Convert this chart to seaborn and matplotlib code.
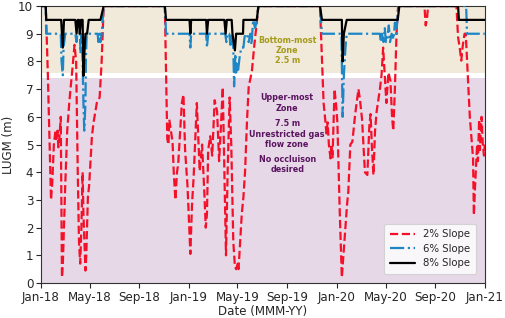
import matplotlib
matplotlib.use("Agg")
import matplotlib.pyplot as plt
import matplotlib.dates as mdates
import pandas as pd
import seaborn as sns

# ---------------- data ----------------
slope2_dates = [
    "2018-01-01", "2018-01-13", "2018-01-18", "2018-01-26", "2018-01-29", "2018-02-02",
    "2018-02-06", "2018-02-08", "2018-02-11", "2018-02-13", "2018-02-16", "2018-02-19",
    "2018-02-22", "2018-02-24", "2018-03-02", "2018-03-07", "2018-03-12", "2018-03-15",
    "2018-03-19", "2018-03-25", "2018-03-29", "2018-04-02", "2018-04-05", "2018-04-08",
    "2018-04-11", "2018-04-14", "2018-04-16", "2018-04-21", "2018-04-23", "2018-04-27",
    "2018-04-30", "2018-05-04", "2018-05-07", "2018-05-11", "2018-05-19", "2018-05-26",
    "2018-05-31", "2018-06-05", "2018-11-03",
    "2018-11-09", "2018-11-12", "2018-11-14", "2018-11-18", "2018-11-22", "2018-11-25",
    "2018-11-29", "2018-12-03", "2018-12-06", "2018-12-11", "2018-12-15", "2018-12-19",
    "2018-12-23", "2018-12-29", "2019-01-05", "2019-01-09", "2019-01-13", "2019-01-21",
    "2019-01-28", "2019-02-03", "2019-02-09", "2019-02-12", "2019-02-15", "2019-02-18",
    "2019-02-23", "2019-02-28", "2019-03-06", "2019-03-12", "2019-03-17", "2019-03-21",
    "2019-03-26", "2019-03-30", "2019-04-03", "2019-04-07", "2019-04-12", "2019-04-16",
    "2019-04-21", "2019-04-25", "2019-04-28", "2019-05-02", "2019-05-04", "2019-05-08",
    "2019-05-12", "2019-05-16", "2019-05-20", "2019-05-25", "2019-05-29", "2019-06-06",
    "2019-06-12", "2019-06-18", "2019-06-22", "2019-11-21",
    "2019-11-26", "2019-11-30", "2019-12-04", "2019-12-07", "2019-12-10", "2019-12-13",
    "2019-12-17", "2019-12-19", "2019-12-22", "2019-12-27", "2019-12-31", "2020-01-03",
    "2020-01-09", "2020-01-14", "2020-01-18", "2020-01-22", "2020-01-27", "2020-01-30",
    "2020-02-04", "2020-02-09", "2020-02-16", "2020-02-24", "2020-02-28", "2020-03-04",
    "2020-03-11", "2020-03-17", "2020-03-22", "2020-03-25", "2020-03-28", "2020-04-01",
    "2020-04-05", "2020-04-09", "2020-04-12", "2020-04-17", "2020-04-21", "2020-04-25",
    "2020-04-29", "2020-05-03", "2020-05-08", "2020-05-13", "2020-05-17", "2020-05-20",
    "2020-05-24", "2020-05-28", "2020-06-01", "2020-08-05", "2020-08-08", "2020-08-11",
    "2020-08-14", "2020-10-23", "2020-10-27", "2020-10-31", "2020-11-04", "2020-11-07",
    "2020-11-12", "2020-11-15", "2020-11-20", "2020-11-25", "2020-12-03", "2020-12-05",
    "2020-12-08", "2020-12-13", "2020-12-15", "2020-12-18", "2020-12-20", "2020-12-24",
    "2020-12-27", "2020-12-30", "2021-01-01",
]
slope2_values = [
    10, 10, 7.6, 3.0, 3.6, 5.0,
    5.5, 5.2, 5.5, 4.9, 5.3, 6.0,
    0.2, 0.6, 3.5, 5.5, 6.5, 7.0,
    7.6, 8.6, 8.0, 4.0, 1.5, 0.7,
    2.0, 4.0, 2.5, 0.45, 1.0, 3.1,
    3.5, 4.5, 5.3, 5.8, 6.5, 6.7,
    8.0, 10, 10,
    5.2, 5.0, 5.9, 5.5, 5.1, 4.0,
    3.0, 4.0, 4.3, 5.5, 6.5, 6.8,
    4.8, 3.5, 1.05, 2.8, 3.8, 6.5,
    4.05, 5.0, 3.1, 2.0, 2.5, 4.8,
    5.3, 4.6, 6.6, 6.2, 4.4, 5.5,
    7.07, 4.0, 1.0, 4.0, 6.7, 5.0,
    1.5, 0.6, 0.5, 0.7, 0.5, 1.5,
    2.5, 3.1, 4.0, 5.9, 7.07, 7.66,
    8.6, 9.4, 10, 10,
    8.0, 6.5, 5.9, 5.4, 5.8, 5.0,
    4.5, 5.0, 4.5, 7.0, 6.4, 5.8,
    2.5, 0.2, 1.0, 1.8, 2.85, 3.3,
    5.0, 5.1, 6.1, 7.0, 6.6, 5.9,
    4.0, 3.9, 5.7, 6.1, 5.0, 3.9,
    5.5, 6.2, 6.5, 7.0, 7.5, 8.5,
    7.5, 6.5, 7.6, 7.3, 6.0, 5.5,
    7.0, 9.0, 10, 10, 9.3, 9.5,
    10, 10, 8.87, 8.5, 8.03, 8.5,
    9.0, 9.0, 7.5, 6.0, 4.5, 2.45,
    3.5, 5.0, 4.4, 5.9, 4.8, 6.0,
    5.0, 4.6, 5.0,
]

slope6_dates = [
    "2018-01-01", "2018-01-13", "2018-01-14", "2018-02-19", "2018-02-21", "2018-02-24",
    "2018-02-26", "2018-03-02", "2018-03-27", "2018-03-30", "2018-04-01", "2018-04-07",
    "2018-04-09", "2018-04-11", "2018-04-14", "2018-04-16", "2018-04-18", "2018-04-21",
    "2018-04-22", "2018-04-24", "2018-05-21", "2018-05-23", "2018-05-26", "2018-05-28",
    "2018-05-31", "2018-06-05", "2018-11-03", "2018-11-06", "2019-01-03", "2019-01-05",
    "2019-01-07", "2019-02-13", "2019-02-15", "2019-02-18", "2019-04-01", "2019-04-04",
    "2019-04-06", "2019-04-11", "2019-04-14", "2019-04-16", "2019-04-21", "2019-04-23",
    "2019-04-26", "2019-04-28", "2019-05-01", "2019-05-03", "2019-05-07", "2019-05-11",
    "2019-05-16", "2019-05-19", "2019-05-25", "2019-05-29", "2019-06-02", "2019-06-05",
    "2019-06-09", "2019-06-14", "2019-06-18", "2019-06-22", "2019-11-21", "2019-11-26",
    "2020-01-13", "2020-01-15", "2020-01-16", "2020-01-19", "2020-01-23", "2020-01-26",
    "2020-04-17", "2020-04-19", "2020-04-22", "2020-04-26", "2020-04-29", "2020-05-02",
    "2020-05-05", "2020-05-09", "2020-05-12", "2020-05-16", "2020-05-21", "2020-05-24",
    "2020-05-28", "2020-06-01", "2020-11-16", "2020-11-18", "2021-01-01",
]
slope6_values = [
    10, 10, 9.0, 9.0, 8.0, 7.5,
    8.5, 9.0, 9.0, 8.7, 9.0, 9.0,
    8.3, 9.0, 8.0, 6.5, 5.5, 6.5,
    8.0, 9.0, 9.0, 8.7, 9.0, 8.7,
    9.0, 10, 10, 9.0, 9.0, 8.5,
    9.0, 9.0, 8.5, 9.0, 9.0, 8.7,
    9.0, 9.0, 8.6, 9.0, 8.5, 7.1,
    8.2, 7.6, 8.0, 7.7, 8.2, 8.5,
    8.5, 8.9, 9.0, 8.7, 9.0, 8.6,
    9.5, 9.2, 9.5, 10, 10, 9.0,
    9.0, 7.0, 6.0, 7.5, 8.5, 9.0,
    9.0, 8.7, 9.0, 8.7, 9.2, 8.7,
    8.8, 9.3, 8.7, 9.0, 8.8, 9.4,
    9.0, 10, 10, 9.0, 9.0,
]

slope8_dates = [
    "2018-01-01", "2018-01-13", "2018-01-14", "2018-02-20", "2018-02-24", "2018-02-27",
    "2018-03-27", "2018-03-30", "2018-04-02", "2018-04-05", "2018-04-07", "2018-04-10",
    "2018-04-14", "2018-04-16", "2018-04-19", "2018-04-21", "2018-04-25", "2018-04-29",
    "2018-05-28", "2018-06-05", "2018-11-03", "2018-11-06", "2019-01-03", "2019-01-05",
    "2019-01-07", "2019-02-13", "2019-02-15", "2019-02-18", "2019-03-30", "2019-04-02",
    "2019-04-05", "2019-04-17", "2019-04-19", "2019-04-25", "2019-04-28", "2019-05-15",
    "2019-05-16", "2019-06-18", "2019-06-22", "2019-11-21", "2019-11-26", "2020-01-14",
    "2020-01-16", "2020-01-19", "2020-01-26", "2020-05-31", "2020-06-04", "2020-10-27",
    "2020-10-29", "2021-01-01",
]
slope8_values = [
    10, 10, 9.5, 9.5, 8.5, 9.5,
    9.5, 9.0, 9.5, 9.5, 9.0, 9.5,
    9.5, 7.48, 8.5, 9.0, 9.0, 9.5,
    9.5, 10, 10, 9.5, 9.5, 9.0,
    9.5, 9.5, 9.0, 9.5, 9.5, 9.0,
    9.5, 9.5, 9.0, 8.4, 9.0, 9.0,
    9.5, 9.5, 10, 10, 9.5, 9.5,
    8.0, 9.0, 9.5, 9.5, 10, 10,
    9.5, 9.5,
]

series_labels = ["2% Slope", "6% Slope", "8% Slope"]
y_ticks = [0, 1, 2, 3, 4, 5, 6, 7, 8, 9, 10]
x_tick_dates = ["2018-01-01", "2018-05-01", "2018-09-01", "2019-01-01", "2019-05-01",
                "2019-09-01", "2020-01-01", "2020-05-01", "2020-09-01", "2021-01-01"]

# ---------------- figure ----------------
sns.set_style("ticks")
plt.rcParams["font.family"] = ["DejaVu Sans"]

fig = plt.figure(figsize=(5.05, 3.18), dpi=100)
ax = fig.add_axes([0.081, 0.110, 0.879, 0.871])

# zone backgrounds
ax.axhspan(7.6, 10, color="#F1EADA", zorder=0, lw=0)
ax.axhspan(0, 7.42, color="#E6D8E6", zorder=0, lw=0)

d2 = pd.DataFrame({"date": pd.to_datetime(slope2_dates), "val": slope2_values})
d6 = pd.DataFrame({"date": pd.to_datetime(slope6_dates), "val": slope6_values})
d8 = pd.DataFrame({"date": pd.to_datetime(slope8_dates), "val": slope8_values})

sns.lineplot(data=d2, x="date", y="val", ax=ax, color="#F5102A", linestyle="--",
             lw=1.6, label=series_labels[0], estimator=None, sort=False, zorder=3)
sns.lineplot(data=d6, x="date", y="val", ax=ax, color="#1C86C6", linestyle="-.",
             lw=1.6, label=series_labels[1], estimator=None, sort=False, zorder=4)
sns.lineplot(data=d8, x="date", y="val", ax=ax, color="black", linestyle="-",
             lw=1.6, label=series_labels[2], estimator=None, sort=False, zorder=5)

ax.set_xlim(pd.Timestamp("2018-01-01"), pd.Timestamp("2021-01-01"))
ax.set_ylim(0, 10)
ax.set_yticks(y_ticks)
ax.set_xticks(pd.to_datetime(x_tick_dates))
ax.xaxis.set_major_formatter(mdates.DateFormatter("%b-%y"))
ax.tick_params(axis="both", labelsize=8.6, length=3.5, width=0.8, pad=2)
ax.set_xlabel("Date (MMM-YY)", fontsize=8.6, labelpad=1)
ax.set_ylabel("LUGM (m)", fontsize=8.6, labelpad=2)
for s in ax.spines.values():
    s.set_visible(True)
    s.set_linewidth(0.8)
    s.set_color("#333333")

# annotations
tx = pd.Timestamp("2019-09-01")
ax.text(tx, 8.41, "Bottom-most\nZone\n2.5 m", ha="center", va="center",
        fontsize=5.8, fontweight="bold", color="#A69A1C", linespacing=1.15, zorder=6)
ax.text(tx, 6.5, "Upper-most\nZone", ha="center", va="center",
        fontsize=5.8, fontweight="bold", color="#5A1460", linespacing=1.15, zorder=6)
ax.text(tx, 5.38, "7.5 m\nUnrestricted gas\nflow zone", ha="center", va="center",
        fontsize=5.8, fontweight="bold", color="#5A1460", linespacing=1.15, zorder=6)
ax.text(tx, 4.28, "No occluison\ndesired", ha="center", va="center",
        fontsize=5.8, fontweight="bold", color="#5A1460", linespacing=1.15, zorder=6)

leg = ax.legend(loc="lower right", fontsize=7.3, frameon=True, framealpha=0.8,
                borderpad=0.55, handlelength=2.5, labelspacing=0.45,
                bbox_to_anchor=(0.992, 0.015))
leg.get_frame().set_edgecolor("#cccccc")
leg.get_frame().set_linewidth(0.8)

fig.savefig("out.png", dpi=100)
